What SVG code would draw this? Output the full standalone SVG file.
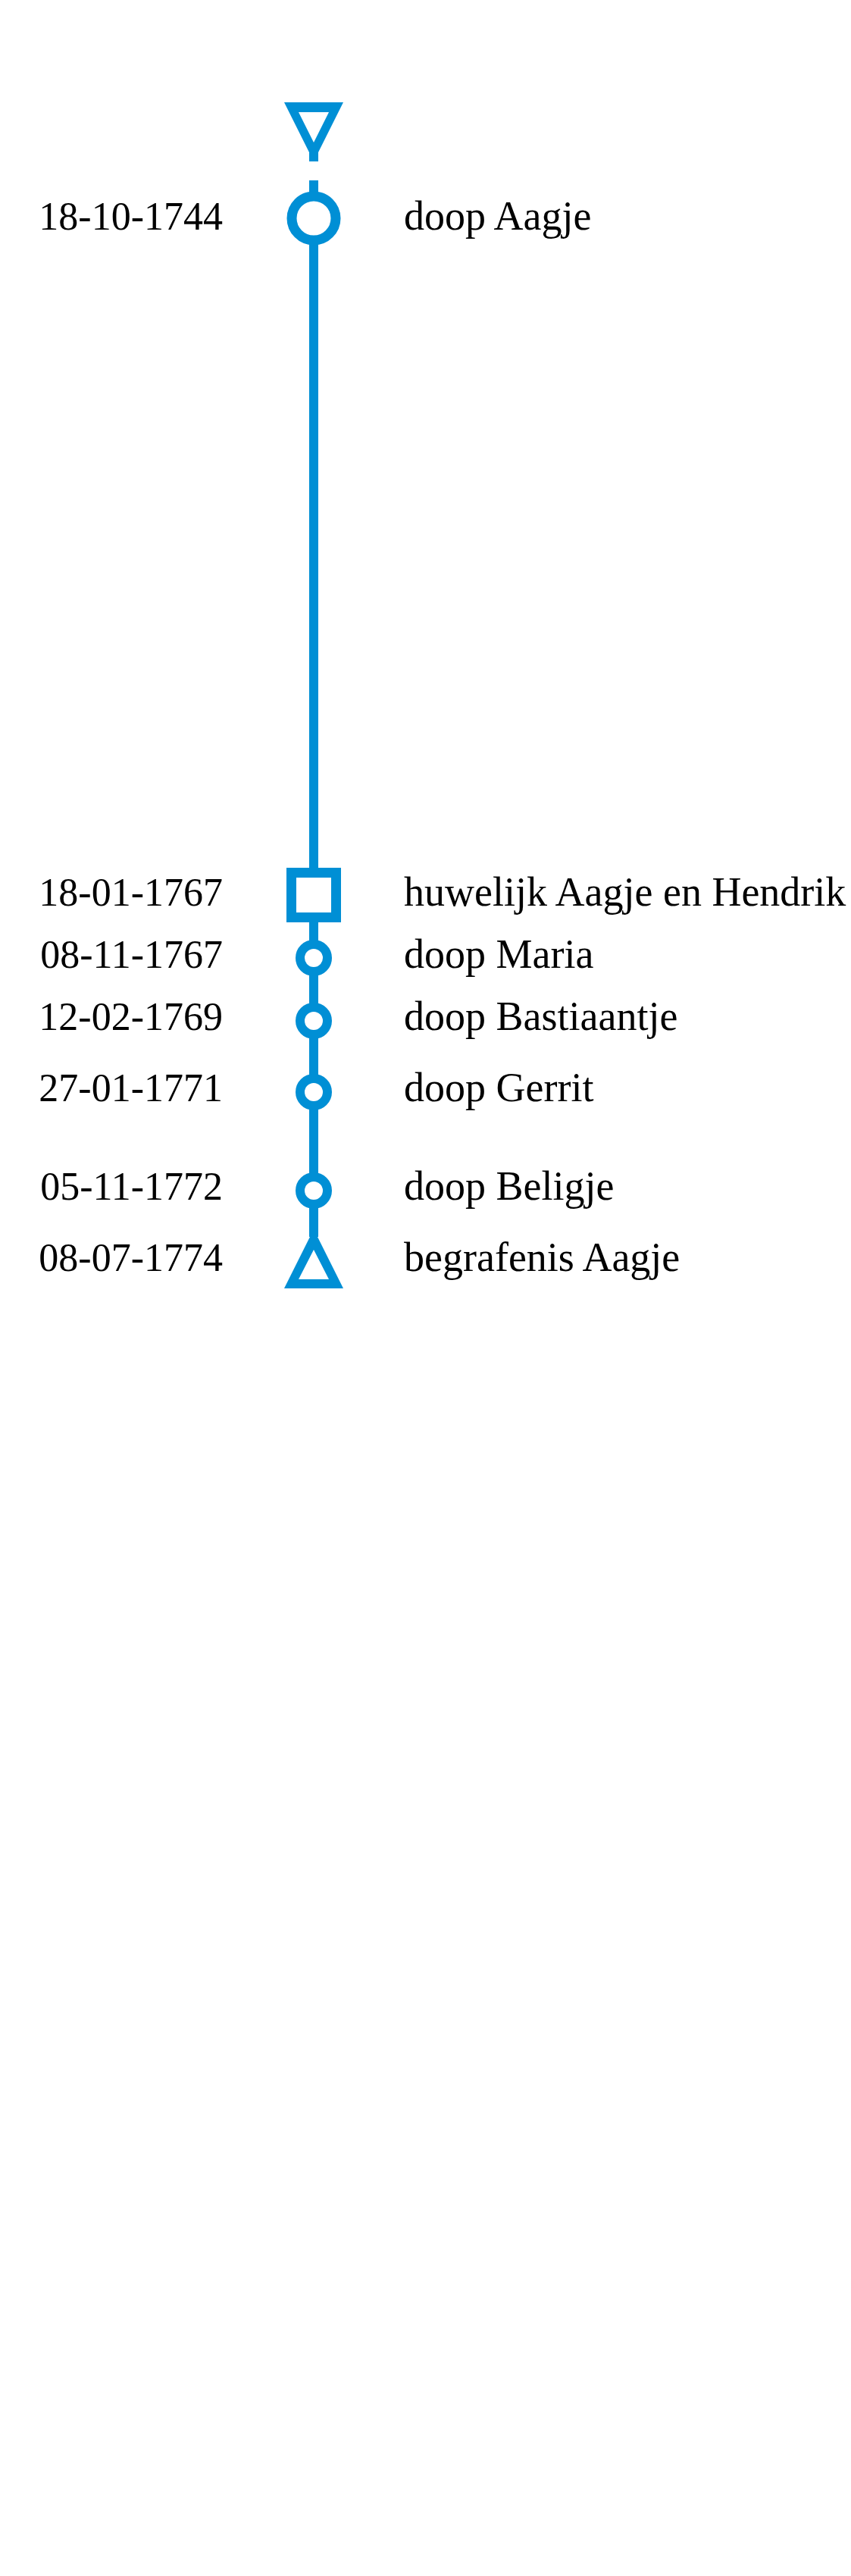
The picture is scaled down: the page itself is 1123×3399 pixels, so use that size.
<svg xmlns="http://www.w3.org/2000/svg" width="1123" height="3399" viewBox="0 0 1123 3399">
<style>
.bg{fill:#ffffff}
.ln{stroke:#008fd5;stroke-width:12;fill:none}
.mk{fill:#ffffff;stroke:#008fd5}
.big{stroke-width:13}
.sm{stroke-width:12}
.tri{fill:#008fd5;fill-rule:evenodd}
.date{font-family:"Liberation Serif","DejaVu Serif",serif;font-size:52px;fill:#000;text-anchor:end}
.lbl{font-family:"Liberation Serif","DejaVu Serif",serif;font-size:54px;fill:#000}
</style>
<rect class="bg" x="0" y="0" width="1123" height="3399"/>
<g id="connectors">
<line class="ln" x1="414" y1="238" x2="414" y2="1632"/>
</g>
<g id="start">
<path class="tri" d="M375,135 H453 L420,201 V213 H408 V201 Z M394,148 H434 L414,188 Z"/>
</g>
<g id="e1">
<circle class="mk big" cx="414" cy="288" r="29"/>
<text class="date" x="294" y="303">18-10-1744</text>
<text class="lbl" x="533" y="303">doop Aagje</text>
</g>
<g id="e2">
<rect class="mk big" x="384.5" y="1151.5" width="59" height="59"/>
<text class="date" x="294" y="1195">18-01-1767</text>
<text class="lbl" x="533" y="1195">huwelijk Aagje en Hendrik</text>
</g>
<g id="e3">
<circle class="mk sm" cx="414" cy="1264" r="18"/>
<text class="date" x="294" y="1277">08-11-1767</text>
<text class="lbl" x="533" y="1277">doop Maria</text>
</g>
<g id="e4">
<circle class="mk sm" cx="414" cy="1347" r="18"/>
<text class="date" x="294" y="1359">12-02-1769</text>
<text class="lbl" x="533" y="1359">doop Bastiaantje</text>
</g>
<g id="e5">
<circle class="mk sm" cx="414" cy="1441" r="18"/>
<text class="date" x="294" y="1453">27-01-1771</text>
<text class="lbl" x="533" y="1453">doop Gerrit</text>
</g>
<g id="e6">
<circle class="mk sm" cx="414" cy="1571" r="18"/>
<text class="date" x="294" y="1583">05-11-1772</text>
<text class="lbl" x="533" y="1583">doop Beligje</text>
</g>
<g id="e7">
<path class="tri" d="M414,1622 L453,1700 H375 Z M414,1649 L434,1688 H394 Z"/>
<text class="date" x="294" y="1677">08-07-1774</text>
<text class="lbl" x="533" y="1677">begrafenis Aagje</text>
</g>
</svg>
